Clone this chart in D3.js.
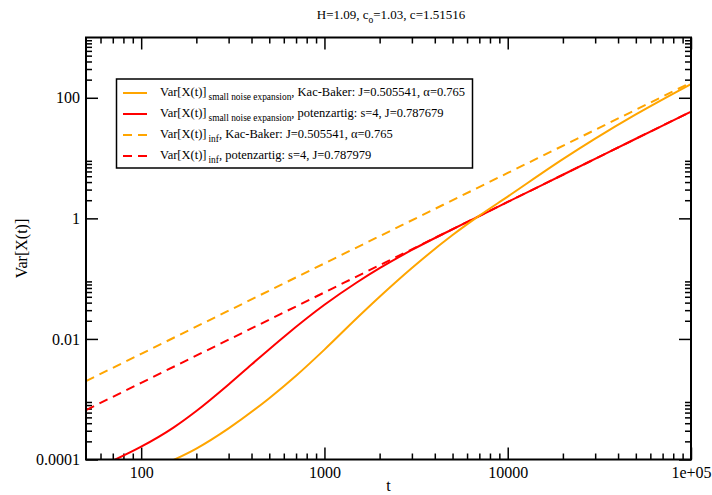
<!DOCTYPE html>
<html>
<head>
<meta charset="utf-8">
<script src="https://cdn.jsdelivr.net/npm/d3@7/dist/d3.min.js"></script>
<style>
  html, body { margin: 0; padding: 0; background: #fff; }
  svg { display: block; font-family: "Liberation Serif", "Times New Roman", serif; }
</style>
</head>
<body>
<svg id="chart" width="712" height="495"></svg>
<script>
// Var[X(t)] small noise expansion, Kac-Baker kernel
const kbSmallT = [140, 200, 300, 500, 700, 1000, 1500, 2000, 3000, 5000, 7000, 10000, 20000, 30000, 50000, 100000];
const kbSmallV = [8.9e-5, 1.52e-4, 3.29e-4, 1.039e-3, 2.45e-3, 6.65e-3, 0.022, 0.050, 0.150, 0.528, 1.108, 2.30, 9.6, 21, 53, 169];

// Var[X(t)] small noise expansion, power-law kernel
const potSmallT = [70, 100, 150, 200, 300, 400, 600, 1000, 1500, 2000, 3000, 5000, 7000, 10000, 20000, 50000, 100000];
const potSmallV = [9.55e-5, 1.63e-4, 3.38e-4, 6.37e-4, 1.755e-3, 3.76e-3, 0.0108, 0.0368, 0.0862, 0.1489, 0.299, 0.660, 1.093, 1.87, 5.29, 20.9, 59.1];

// Var[X(t)]_inf, Kac-Baker kernel
const kbInfT = [50, 100, 1000, 10000, 100000];
const kbInfV = [2.0e-3, 5.66e-3, 0.179, 5.66, 179];

// Var[X(t)]_inf, power-law kernel
const potInfT = [50, 100, 1000, 10000, 100000];
const potInfV = [6.6e-4, 1.87e-3, 0.0591, 1.87, 59.1];

// axis ticks
const xMajor = [100, 1000, 10000, 100000];
const xMajorLabels = ["100", "1000", "10000", "1e+05"];
const yMajor = [1e-4, 1e-2, 1, 100];
const yMajorLabels = ["0.0001", "0.01", "1", "100"];

const legendRows = [
  { main: "Var[X(t)]", sub: "small noise expansion", rest: ", Kac-Baker: J=0.505541, \u03b1=0.765", color: "#FFA500", dash: null },
  { main: "Var[X(t)]", sub: "small noise expansion", rest: ", potenzartig: s=4, J=0.787679", color: "#FF0000", dash: null },
  { main: "Var[X(t)]", sub: "inf", rest: ", Kac-Baker: J=0.505541, \u03b1=0.765", color: "#FFA500", dash: "9,6" },
  { main: "Var[X(t)]", sub: "inf", rest: ", potenzartig: s=4, J=0.787979", color: "#FF0000", dash: "9,6" }
];

const L = 86, R = 691, T = 37.5, B = 459.5;
const svg = d3.select("#chart");

const x = d3.scaleLog().domain([50, 1e5]).range([L, R]);
const y = d3.scaleLog().domain([1e-4, 1e3]).range([B, T]);

// minor ticks: 2..9 times each decade / major value
const xMinor = [];
for (let e = 1; e <= 4; e++) for (let k = 2; k <= 9; k++) {
  const v = k * Math.pow(10, e);
  if (v > 50 && v < 1e5) xMinor.push(v);
}
const yMinor = [];
yMajor.forEach(m => { for (let k = 2; k <= 9; k++) { const v = k * m; if (v < 1e3) yMinor.push(v); } });

svg.append("clipPath").attr("id", "plotClip")
  .append("rect").attr("x", L).attr("y", T).attr("width", R - L).attr("height", B - T);

function styleAxis(g) {
  g.select(".domain").remove();
  g.selectAll(".tick line").attr("stroke", "#000").attr("stroke-width", 1.5);
  g.selectAll(".tick text").attr("fill", "#000").style("font-size", "16px")
    .style("font-family", "'Liberation Serif', serif");
}

// bottom / top
svg.append("g").attr("transform", `translate(0,${B})`)
  .call(d3.axisBottom(x).tickValues(xMajor).tickSize(-12).tickPadding(7)
    .tickFormat((d, i) => xMajorLabels[i])).call(styleAxis);
svg.append("g").attr("transform", `translate(0,${B})`)
  .call(d3.axisBottom(x).tickValues(xMinor).tickSize(-6).tickFormat("")).call(styleAxis);
svg.append("g").attr("transform", `translate(0,${T})`)
  .call(d3.axisTop(x).tickValues(xMajor).tickSize(-12).tickFormat("")).call(styleAxis);
svg.append("g").attr("transform", `translate(0,${T})`)
  .call(d3.axisTop(x).tickValues(xMinor).tickSize(-6).tickFormat("")).call(styleAxis);

// left / right
svg.append("g").attr("transform", `translate(${L},0)`)
  .call(d3.axisLeft(y).tickValues(yMajor).tickSize(-12).tickPadding(6)
    .tickFormat((d, i) => yMajorLabels[i])).call(styleAxis);
svg.append("g").attr("transform", `translate(${L},0)`)
  .call(d3.axisLeft(y).tickValues(yMinor).tickSize(-6).tickFormat("")).call(styleAxis);
svg.append("g").attr("transform", `translate(${R},0)`)
  .call(d3.axisRight(y).tickValues(yMajor).tickSize(-12).tickFormat("")).call(styleAxis);
svg.append("g").attr("transform", `translate(${R},0)`)
  .call(d3.axisRight(y).tickValues(yMinor).tickSize(-6).tickFormat("")).call(styleAxis);

// curves
const line = d3.line().x(d => x(d[0])).y(d => y(d[1])).curve(d3.curveMonotoneX);
const curves = [
  { t: potInfT, v: potInfV, color: "#FF0000", dash: "9,6" },
  { t: kbInfT, v: kbInfV, color: "#FFA500", dash: "9,6" },
  { t: potSmallT, v: potSmallV, color: "#FF0000", dash: null },
  { t: kbSmallT, v: kbSmallV, color: "#FFA500", dash: null }
];
const plot = svg.append("g").attr("clip-path", "url(#plotClip)");
curves.forEach(c => {
  plot.append("path")
    .datum(c.t.map((t, i) => [t, c.v[i]]))
    .attr("d", line)
    .attr("fill", "none")
    .attr("stroke", c.color)
    .attr("stroke-width", 2)
    .attr("stroke-dasharray", c.dash);
});

// frame
svg.append("rect").attr("x", L).attr("y", T).attr("width", R - L).attr("height", B - T)
  .attr("fill", "none").attr("stroke", "#000").attr("stroke-width", 2);

// legend
const lg = svg.append("g");
lg.append("rect").attr("x", 116.5).attr("y", 79).attr("width", 356).attr("height", 89)
  .attr("fill", "#fff").attr("stroke", "#000").attr("stroke-width", 1.5);
legendRows.forEach((r, i) => {
  const cy = 93 + i * 21;
  lg.append("line").attr("x1", 123).attr("x2", 147).attr("y1", cy).attr("y2", cy)
    .attr("stroke", r.color).attr("stroke-width", 2).attr("stroke-dasharray", r.dash);
  const t = lg.append("text").attr("x", 160).attr("y", cy + 3).style("font-size", "12.5px").attr("fill", "#000");
  t.append("tspan").text(r.main);
  t.append("tspan").attr("dy", 4).attr("dx", 2).style("font-size", "9.4px").text(r.sub);
  t.append("tspan").attr("dy", -4).text(r.rest);
});

// title
const title = svg.append("text").attr("x", 391).attr("y", 19).attr("text-anchor", "middle")
  .style("font-size", "13px").attr("fill", "#000");
title.append("tspan").text("H=1.09, c");
title.append("tspan").attr("dy", 4).style("font-size", "9.5px").text("o");
title.append("tspan").attr("dy", -4).text("=1.03, c=1.51516");

// axis labels
svg.append("text").attr("x", (L + R) / 2).attr("y", 491).attr("text-anchor", "middle")
  .style("font-size", "16px").attr("fill", "#000").text("t");
svg.append("text").attr("transform", `translate(27,${(T + B) / 2}) rotate(-90)`)
  .attr("text-anchor", "middle").style("font-size", "16px").attr("fill", "#000").text("Var[X(t)]");
</script>
</body>
</html>
